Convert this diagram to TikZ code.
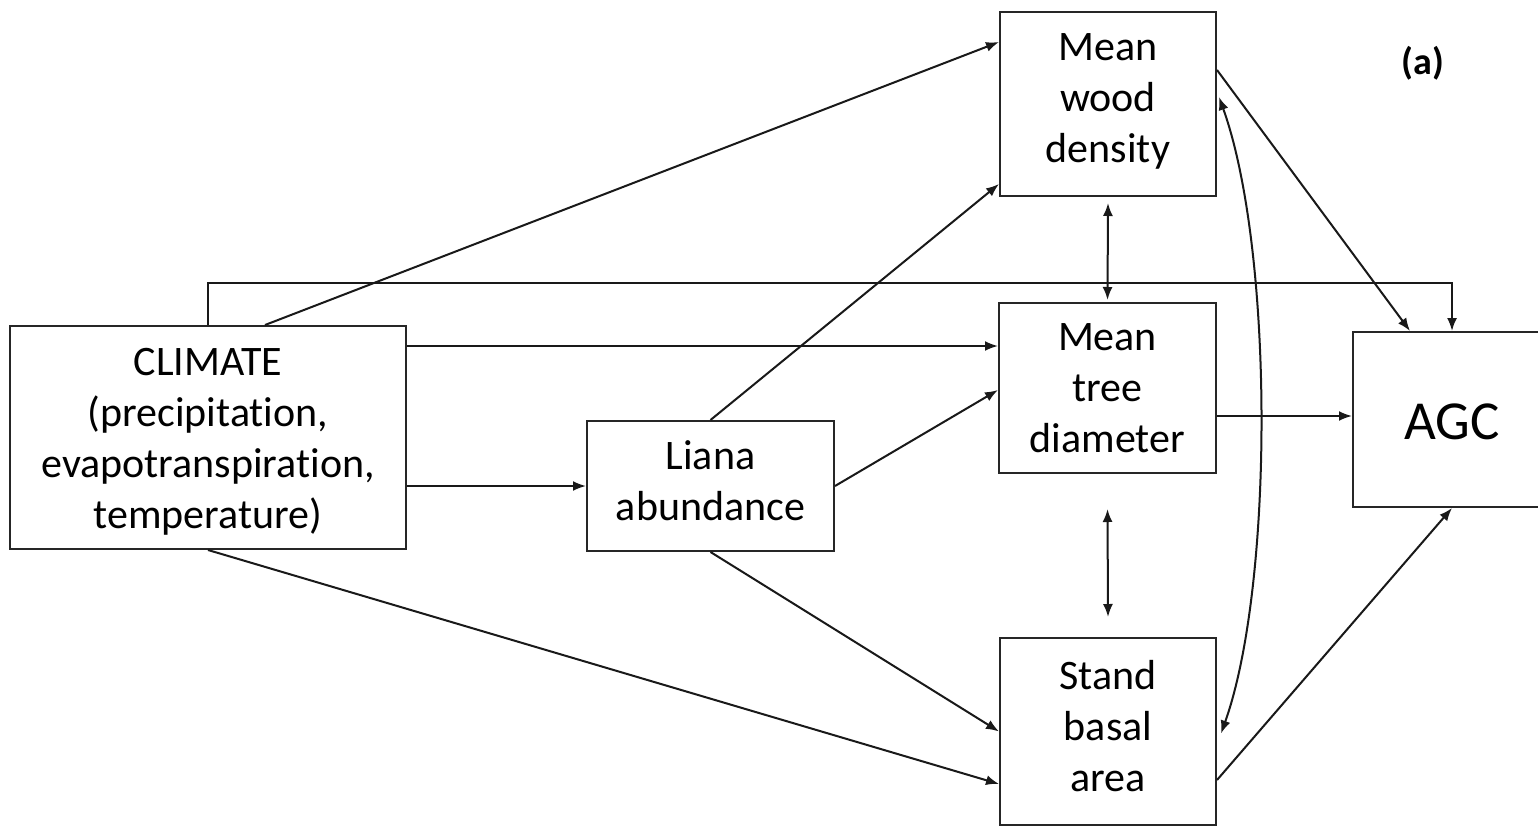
\documentclass[tikz,border=0pt]{standalone}
\usepackage{fontspec}
\setmainfont[Ligatures=CommonOff]{Carlito}
\usetikzlibrary{arrows.meta,calc}
\begin{document}
\begin{tikzpicture}[x=1pt,y=-1pt,
  box/.style={draw=black!85,line width=2pt,inner sep=0pt},
  txt/.style={align=center,inner sep=0pt,font=\fontsize{42}{51}\selectfont},
  arr/.style={line width=2pt,draw=black!90,-{Latex[length=13pt,width=10pt]}},
  darr/.style={line width=2pt,draw=black!90,{Latex[length=13pt,width=10pt]}-{Latex[length=13pt,width=10pt]}}]
\useasboundingbox (0,0) rectangle (1538,827);
\fill[white] (0,0) rectangle (1538,827);
\node[box,minimum width=396pt,minimum height=223pt] (clim) at (208,437.5) {};
\node[txt] (climt) at ([yshift=-4pt]clim.center) {CLIMATE\\(precipitation,\\evapotranspiration,\\temperature)};
\node[box,minimum width=247pt,minimum height=130pt] (liana) at (710.5,486) {};
\node[txt] (lianat) at ([yshift=5pt]liana.center) {Liana\\abundance};
\node[box,minimum width=216pt,minimum height=184pt] (wood) at (1108,104) {};
\node[txt] (woodt) at ([yshift=3pt]wood.center) {Mean\\wood\\density};
\node[box,minimum width=217pt,minimum height=170pt] (diam) at (1107.5,388) {};
\node[txt] (diamt) at (diam.center) {Mean\\tree\\diameter};
\node[box,minimum width=216pt,minimum height=187pt] (basal) at (1108,731.5) {};
\node[txt] (basalt) at ([yshift=5pt]basal.center) {Stand\\basal\\area};
\node[box,minimum width=198pt,minimum height=175pt] (agc) at (1452,419.5) {};
\node[txt,font=\fontsize{55}{66}\selectfont] (agct) at ([yshift=-2pt]agc.center) {AGC};
\node[font=\bfseries\fontsize{38}{46}\selectfont] (lab) at (1423,63) {(a)};
% arrows from climate
\draw[arr] ([xshift=57pt]clim.north) -- ([yshift=62pt]wood.west);
\draw[arr] (clim.north) |- ([yshift=48pt]agc.north) -- (agc.north);
\coordinate (c3) at ([yshift=91.5pt]clim.east);
\draw[arr] (c3) -- (c3 -| diam.west);
\draw[arr] ([yshift=-48.5pt]clim.east) -- (liana.west);
\draw[arr] (clim.south) -- ([yshift=-52.5pt]basal.west);
% arrows from liana
\draw[arr] (liana.north) -- ([yshift=-80pt]wood.west);
\draw[arr] (liana.east) -- ([yshift=-2pt]diam.west);
\draw[arr] (liana.south) -- (basal.west);
% correlations
\draw[darr] ([yshift=-6pt]wood.south) -- ([yshift=2pt]diam.north);
\draw[darr] ([yshift=-35pt]diam.south) -- ([yshift=20pt]basal.north);
\draw[darr] ([xshift=2pt,yshift=7pt]wood.east) .. controls (1274,250) and (1274,585) .. ([xshift=4pt,yshift=-2pt]basal.east);
% to AGC
\draw[arr] ([yshift=34pt]wood.east) -- ([xshift=-42pt]agc.north);
\coordinate (c13) at ([yshift=-28pt]diam.east);
\draw[arr] (c13) -- (c13 -| agc.west);
\draw[arr] ([yshift=-48.5pt]basal.east) -- (agc.south);
\end{tikzpicture}
\end{document}
